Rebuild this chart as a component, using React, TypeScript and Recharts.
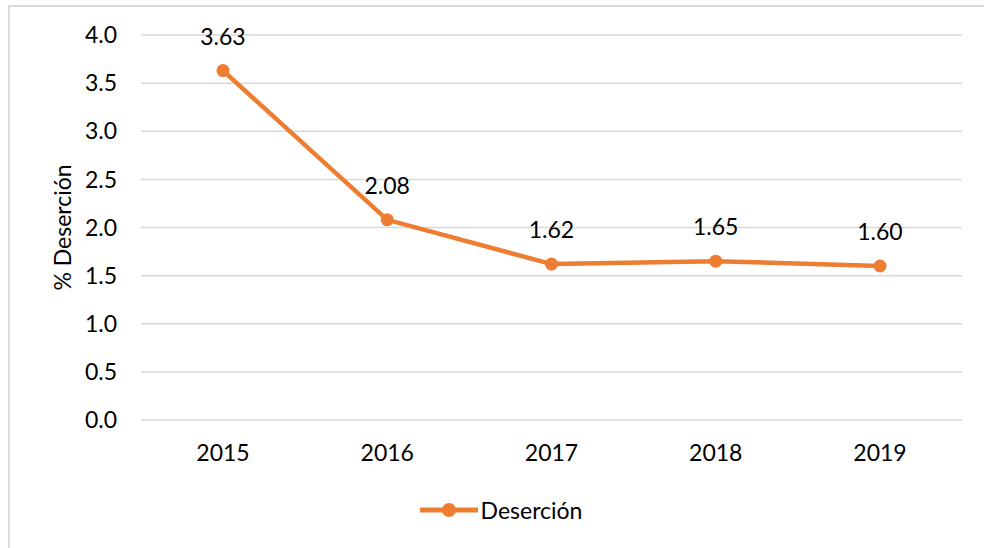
import { LineChart, Line, XAxis, YAxis, CartesianGrid, Legend, LabelList } from 'recharts'

const years = ['2015', '2016', '2017', '2018', '2019']
const desercion = [3.63, 2.08, 1.62, 1.65, 1.6]
const yTicks = [0, 0.5, 1, 1.5, 2, 2.5, 3, 3.5, 4]

const ORANGE = '#ED7D31'
const GRID = '#D9D9D9'
const FONT = 'Lato, "Open Sans", sans-serif'
const TEXT = '#000000'

const data = years.map((y, i) => ({ year: y, value: desercion[i] }))

const ValueLabel = (props: any) => {
  const { x, y, value } = props
  return (
    <text x={x} y={y - 26} textAnchor="middle" fontSize={23} fontFamily={FONT} fill={TEXT}>
      {Number(value).toFixed(2)}
    </text>
  )
}

const YTitle = (props: any) => {
  const { viewBox } = props
  const cx = viewBox.x + 62
  const cy = viewBox.y + viewBox.height / 2
  return (
    <text
      x={cx}
      y={cy}
      transform={`rotate(-90, ${cx}, ${cy})`}
      textAnchor="middle"
      dominantBaseline="central"
      fontSize={23}
      fontFamily={FONT}
      fill={TEXT}
    >
      % Deserción
    </text>
  )
}

const LegendContent = () => (
  <div style={{ display: 'flex', justifyContent: 'center', alignItems: 'center', height: 36, marginLeft: 38 }}>
    <svg width={62} height={20}>
      <line x1={2} y1={10} x2={60} y2={10} stroke={ORANGE} strokeWidth={5} />
      <circle cx={31} cy={10} r={7} fill={ORANGE} />
    </svg>
    <span style={{ fontFamily: FONT, fontSize: 23, color: TEXT, marginLeft: 1 }}>Deserción</span>
  </div>
)

export default function App() {
  return (
    <div style={{ position: 'fixed', left: 0, top: 0, width: 984, height: 548, overflow: 'hidden', background: '#fff' }}>
      <div
        style={{
          position: 'absolute', left: 8, top: 5, width: 1100, height: 700,
          borderLeft: `2px solid ${GRID}`, borderTop: `2px solid ${GRID}`, boxSizing: 'border-box',
        }}
      />
      <LineChart width={984} height={548} data={data} margin={{ top: 35, right: 22, left: 0, bottom: 0 }}>
        <CartesianGrid vertical={false} stroke={GRID} strokeWidth={1.5} />
        <XAxis
          dataKey="year"
          axisLine={false}
          tickLine={false}
          tickSize={0}
          tickMargin={25}
          height={72}
          padding={{ left: 82, right: 82 }}
          tick={{ fontSize: 23, fontFamily: FONT, fill: TEXT }}
        />
        <YAxis
          domain={[0, 4]}
          ticks={yTicks}
          tickFormatter={(v: number) => v.toFixed(1)}
          axisLine={false}
          tickLine={false}
          tickSize={0}
          tickMargin={24}
          width={141}
          tick={{ fontSize: 23, fontFamily: FONT, fill: TEXT }}
          label={<YTitle />}
        />
        <Legend verticalAlign="bottom" height={56} content={<LegendContent />} />
        <Line
          type="linear"
          dataKey="value"
          name="Deserción"
          stroke={ORANGE}
          strokeWidth={4.5}
          dot={{ r: 6.5, fill: ORANGE, stroke: ORANGE, strokeWidth: 0 }}
          activeDot={false}
          isAnimationActive={false}
        >
          <LabelList dataKey="value" content={<ValueLabel />} />
        </Line>
      </LineChart>
    </div>
  )
}
